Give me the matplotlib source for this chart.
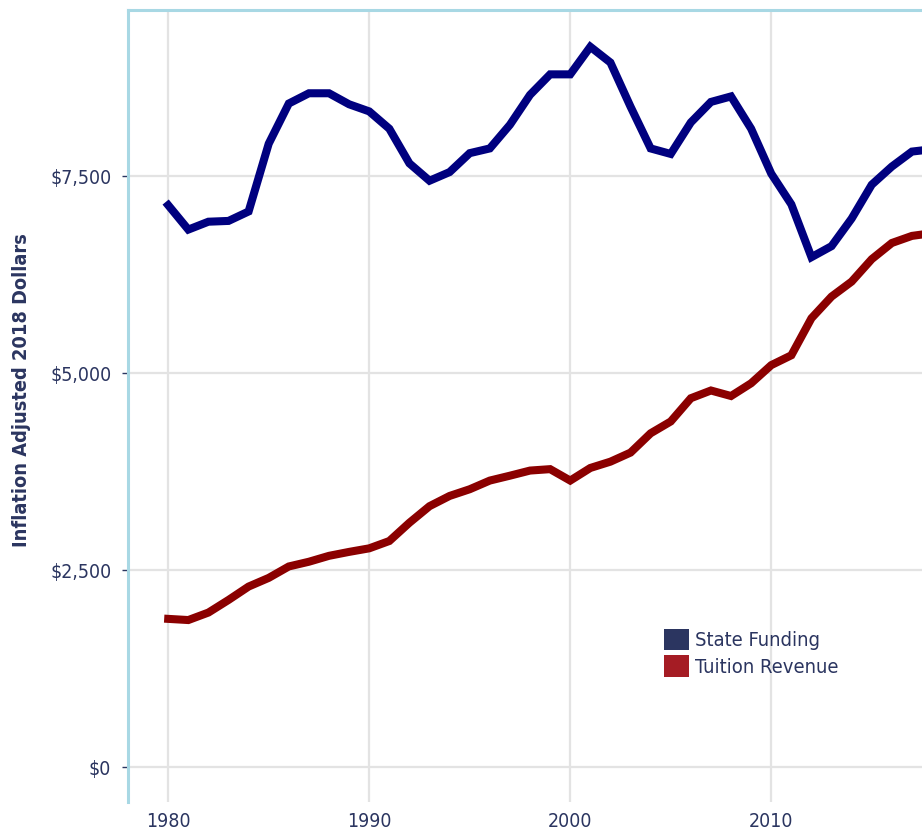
import matplotlib.pyplot as plt
from matplotlib import font_manager
from matplotlib.patches import Patch
from matplotlib.ticker import FuncFormatter

# Police étroite si disponible
names = {f.name for f in font_manager.fontManager.ttflist}
if 'Liberation Sans Narrow' in names:
    plt.rcParams['font.family'] = ['Liberation Sans Narrow', 'DejaVu Sans']
    fs, fs_lab, fs_leg = 17, 17.5, 17.5
else:
    plt.rcParams['font.family'] = ['DejaVu Sans']
    plt.rcParams['font.stretch'] = 'condensed'
    fs, fs_lab, fs_leg = 14, 14.3, 14.5

# Données (dollars 2018 par étudiant)
years = list(range(1980, 2019))
state_funding = [
    7130, 6820, 6920, 6930, 7050, 7910, 8420, 8550, 8550, 8410,
    8320, 8100, 7660, 7440, 7550, 7790, 7850, 8150, 8530, 8790,
    8790, 9140, 8940, 8380, 7850, 7780, 8180, 8440, 8510, 8100,
    7530, 7140, 6470, 6610, 6960, 7390, 7620, 7810, 7840,
]
tuition_revenue = [
    1880, 1865, 1960, 2120, 2290, 2400, 2545, 2605, 2680, 2730,
    2775, 2868, 3100, 3310, 3440, 3525, 3635, 3697, 3762, 3780,
    3635, 3795, 3875, 3990, 4235, 4385, 4680, 4778, 4708, 4870,
    5100, 5225, 5695, 5970, 6160, 6445, 6650, 6740, 6775,
]
series_names = ['State Funding', 'Tuition Revenue']
y_ticks = [0, 2500, 5000, 7500]
x_ticks = [1980, 1990, 2000, 2010]

text_color = '#2b3560'
line_colors = ['#00007f', '#8b0000']
legend_colors = ['#2b3560', '#a51c24']

fig = plt.figure(figsize=(9.22, 8.35), dpi=100)
ax = fig.add_axes([128 / 922, 33 / 835, 1 - 128 / 922, 792.5 / 835])

ax.plot(years, state_funding, color=line_colors[0], linewidth=5.8,
        solid_joinstyle='miter', zorder=3)
ax.plot(years, tuition_revenue, color=line_colors[1], linewidth=5.8,
        solid_joinstyle='miter', zorder=3)

ax.set_xlim(1978.0, 2017.5)
ax.set_ylim(-444, 9613)
ax.set_xticks(x_ticks)
ax.set_yticks(y_ticks)
ax.yaxis.set_major_formatter(FuncFormatter(lambda v, p: f'${v:,.0f}'))
ax.grid(True, color='#e3e3e3', linewidth=1.6)
ax.set_axisbelow(True)

for side in ['right', 'bottom']:
    ax.spines[side].set_visible(False)
for side in ['left', 'top']:
    ax.spines[side].set_color('#a8d8e4')
    ax.spines[side].set_linewidth(2.2)

ax.tick_params(axis='y', length=4, width=1, color=text_color,
               labelsize=fs, labelcolor=text_color, pad=8)
ax.tick_params(axis='x', length=0, labelsize=fs, labelcolor=text_color, pad=7)

ax.set_ylabel('Inflation Adjusted 2018 Dollars', fontsize=fs_lab, fontweight='bold',
              color=text_color)
ax.yaxis.set_label_coords(-0.122, 0.52)

handles = [Patch(facecolor=c, edgecolor='none') for c in legend_colors]
ax.legend(handles, series_names, loc='upper left',
          bbox_to_anchor=(664 / 922, 1 - 629 / 835), bbox_transform=fig.transFigure,
          frameon=False, fontsize=fs_leg, labelcolor=text_color,
          handlelength=1.24, handleheight=1.24, handletextpad=0.3,
          labelspacing=0.25, borderpad=0, borderaxespad=0)

plt.savefig('out.png', dpi=100)
plt.close()
